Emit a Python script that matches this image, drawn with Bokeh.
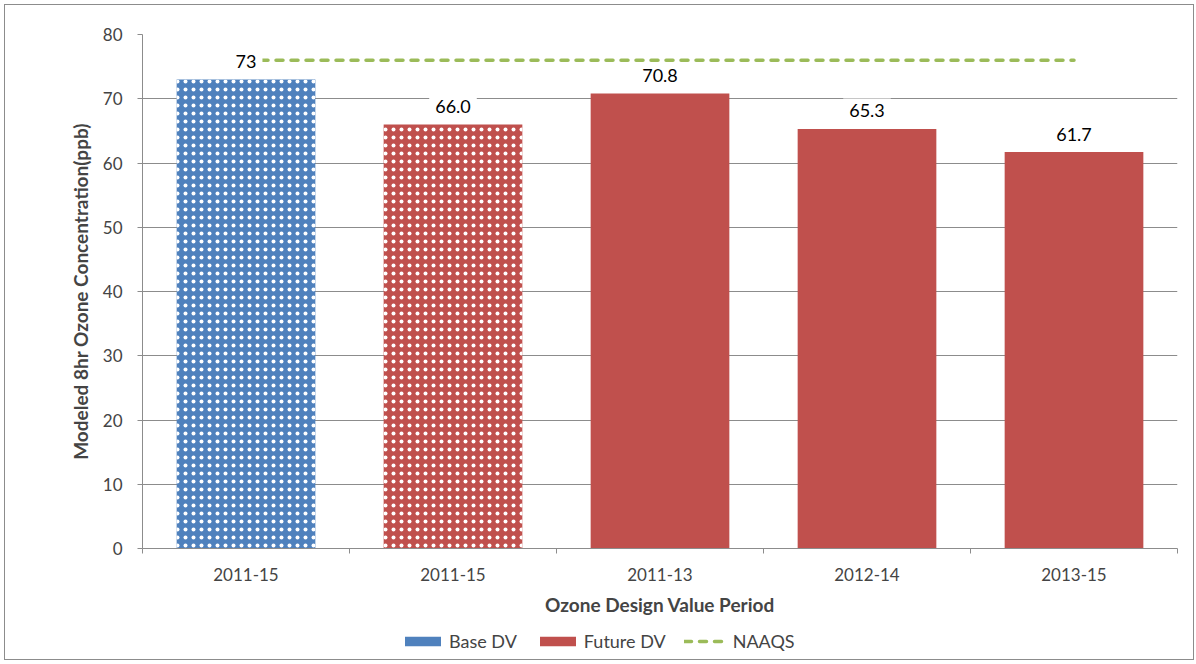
from bokeh.plotting import figure
from bokeh.models import (ColumnDataSource, FixedTicker, Legend, LegendItem, Range1d)
from bokeh.layouts import column
from bokeh.core.properties import value
from bokeh.embed import file_html
from bokeh.resources import INLINE

# ---- data ----
periods = ["2011-15", "2011-15", "2011-13", "2012-14", "2013-15"]
series = ["Base DV", "Future DV", "Future DV", "Future DV", "Future DV"]
dv_values = [73, 66.0, 70.8, 65.3, 61.7]
dv_labels = ["73", "66.0", "70.8", "65.3", "61.7"]
hatched = [True, True, False, False, False]
naaqs = [76, 76, 76, 76, 76]
y_ticks = [0, 10, 20, 30, 40, 50, 60, 70, 80]

BLUE = "#4F81BD"
RED = "#C0504D"
GREEN = "#9BBB59"
GRID = "#8C8C8C"
FONT = "Lato"

xs = [i + 0.5 for i in range(len(periods))]
colors = [BLUE if s == "Base DV" else RED for s in series]

p = figure(width=1188, height=617, output_backend="svg", toolbar_location=None,
           x_range=Range1d(0, len(periods)), y_range=Range1d(0, 80),
           min_border_left=137, min_border_top=29, min_border_right=16,
           min_border_bottom=74)
p.outline_line_color = None

hatch_src = ColumnDataSource(dict(
    x=[x for x, h in zip(xs, hatched) if h],
    top=[v for v, h in zip(dv_values, hatched) if h],
    color=[c for c, h in zip(colors, hatched) if h]))
solid_src = ColumnDataSource(dict(
    x=[x for x, h in zip(xs, hatched) if not h],
    top=[v for v, h in zip(dv_values, hatched) if not h],
    color=[c for c, h in zip(colors, hatched) if not h]))

p.vbar(x="x", top="top", width=0.67, source=hatch_src, fill_color="color",
       line_color=None, hatch_pattern="dot", hatch_color="white",
       hatch_scale=8, hatch_weight=2.4)
p.vbar(x="x", top="top", width=0.67, source=solid_src,
       fill_color="color", line_color=None)
p.line(xs, naaqs, line_color=GREEN, line_width=3.5,
       line_dash="7 8", line_cap="round")

lab_src = ColumnDataSource(dict(x=xs, y=dv_values, t=dv_labels))
p.text(x="x", y="y", text="t", source=lab_src, y_offset=-18,
       text_align="center", text_baseline="middle", text_font=value(FONT),
       text_font_size="18px", text_color="black",
       background_fill_color="white", padding=6)

# axes
yax = p.yaxis[0]
yax.ticker = FixedTicker(ticks=y_ticks)
yax.axis_label = "Modeled 8hr Ozone Concentration(ppb)"
yax.axis_label_text_font = FONT
yax.axis_label_text_font_style = "bold"
yax.axis_label_text_font_size = "19px"
yax.axis_label_standoff = 8
yax.major_label_text_font = FONT
yax.major_label_text_font_size = "17px"
yax.major_label_standoff = 15
yax.axis_line_color = GRID
yax.major_tick_line_color = GRID
yax.major_tick_in = 0
yax.major_tick_out = 5
yax.minor_tick_line_color = None

xax = p.xaxis[0]
xax.ticker = FixedTicker(ticks=xs, minor_ticks=list(range(len(periods) + 1)))
xax.major_label_overrides = {x: lab for x, lab in zip(xs, periods)}
xax.major_label_text_font = FONT
xax.major_label_text_font_size = "17px"
xax.major_label_standoff = 14
xax.major_tick_in = 0
xax.major_tick_out = 0
xax.minor_tick_in = 0
xax.minor_tick_out = 5
xax.minor_tick_line_color = GRID
xax.axis_line_color = GRID
xax.axis_label = "Ozone Design Value Period"
xax.axis_label_text_font = FONT
xax.axis_label_text_font_style = "bold"
xax.axis_label_text_font_size = "19px"
xax.axis_label_standoff = 9

p.xgrid.grid_line_color = None
p.ygrid.grid_line_color = GRID
p.ygrid.grid_line_width = 1

# ---- legend strip (separate figure so the legend is not clipped) ----
pl = figure(width=1188, height=37, output_backend="svg", toolbar_location=None,
            x_range=Range1d(100, 101), y_range=Range1d(100, 101),
            x_axis_location=None, y_axis_location=None, min_border=0)
pl.outline_line_color = None
pl.grid.grid_line_color = None
lb = pl.vbar(x=xs[:1], top=dv_values[:1], width=0.67, fill_color=BLUE, line_color=None)
lf = pl.vbar(x=xs[1:], top=dv_values[1:], width=0.67, fill_color=RED, line_color=None)
ln = pl.line(xs, naaqs, line_color=GREEN, line_width=3.5,
             line_dash="7 8", line_cap="round")

legend = Legend(items=[
    LegendItem(label="Base DV", renderers=[lb]),
    LegendItem(label="Future DV", renderers=[lf]),
    LegendItem(label="NAAQS", renderers=[ln]),
], orientation="horizontal", location=(258, 7), glyph_width=45,
    glyph_height=12, label_standoff=4, spacing=18, padding=4, margin=0,
    border_line_color=None, background_fill_alpha=0,
    label_text_font=FONT, label_text_font_size="18px")
pl.add_layout(legend, "center")

layout = column(p, pl, spacing=0)
layout.styles = {"border": "1px solid #8C8C8C", "margin": "4px"}

open("out.html", "w").write(file_html(layout, INLINE))
